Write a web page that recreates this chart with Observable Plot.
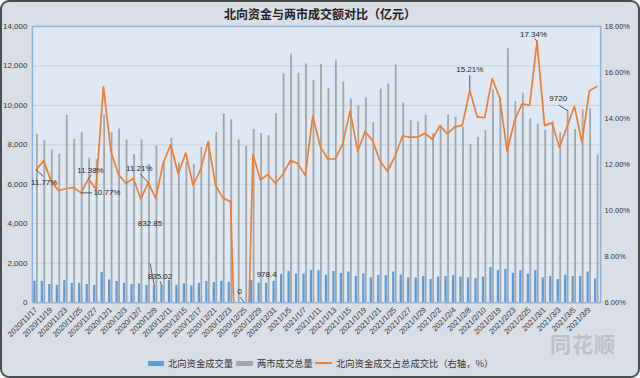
<!DOCTYPE html>
<html><head><meta charset="utf-8">
<script src="https://cdn.jsdelivr.net/npm/d3@7"></script>
<script src="https://cdn.jsdelivr.net/npm/@observablehq/plot@0.6"></script>
<style>
html,body{margin:0;padding:0;background:#fff;}
#wrap{position:relative;width:640px;height:378px;box-sizing:border-box;background:#d9dee7;border:2px solid #4d4d4d;border-radius:9px;overflow:hidden;font-family:"Noto Sans CJK SC","Noto Sans",sans-serif;}
#title{position:absolute;left:-2px;top:4px;width:640px;text-align:center;font-size:12px;font-weight:bold;color:#222;line-height:16px;}
#chart{position:absolute;left:-2px;top:18px;}
.lg{position:absolute;font-size:9.3px;line-height:12px;color:#333;white-space:nowrap;}
.sw{position:absolute;}
#wm{position:absolute;left:548px;top:326px;font-size:21px;font-weight:bold;color:rgba(160,166,178,0.55);letter-spacing:1px;}
</style></head>
<body>
<div id="wrap">
  <div id="title">北向资金与两市成交额对比（亿元）</div>
  <div id="chart"></div>
  <div id="wm">同花顺</div>
  <div class="sw" style="left:146px;top:359px;width:16px;height:5px;background:#5b9bd5"></div>
  <div class="lg" style="left:166px;top:355px;">北向资金成交量</div>
  <div class="sw" style="left:234px;top:359px;width:17px;height:5px;background:#a5a5a5"></div>
  <div class="lg" style="left:255px;top:355px;">两市成交总量</div>
  <div class="sw" style="left:313px;top:360px;width:17px;height:2px;background:#ed7d31"></div>
  <div class="lg" style="left:334px;top:355px;">北向资金成交占总成交比（右轴，%）</div>
</div>
<script>
const dates = [
"2020/11/17","2020/11/18","2020/11/19","2020/11/20","2020/11/23","2020/11/24","2020/11/25","2020/11/26","2020/11/27","2020/11/30",
"2020/12/1","2020/12/2","2020/12/3","2020/12/4","2020/12/7","2020/12/8","2020/12/9","2020/12/10","2020/12/11","2020/12/14",
"2020/12/15","2020/12/16","2020/12/17","2020/12/18","2020/12/21","2020/12/22","2020/12/23","2020/12/24","2020/12/25","2020/12/28",
"2020/12/29","2020/12/30","2020/12/31","2021/1/4","2021/1/5","2021/1/6","2021/1/7","2021/1/8","2021/1/11","2021/1/12",
"2021/1/13","2021/1/14","2021/1/15","2021/1/18","2021/1/19","2021/1/20","2021/1/21","2021/1/22","2021/1/25","2021/1/26",
"2021/1/27","2021/1/28","2021/1/29","2021/2/1","2021/2/2","2021/2/3","2021/2/4","2021/2/5","2021/2/8","2021/2/9",
"2021/2/10","2021/2/18","2021/2/19","2021/2/22","2021/2/23","2021/2/24","2021/2/25","2021/2/26","2021/3/1","2021/3/2",
"2021/3/3","2021/3/4","2021/3/5","2021/3/8","2021/3/9","2021/3/10"];
const northbound = [
1080,1080,920,880,1120,980,980,920,870,1520,
1150,1070,980,920,950,870,832.85,835.02,1130,880,
950,850,980,1070,1020,1080,1030,0,0,1130,
990,978.4,1080,1420,1580,1450,1450,1630,1620,1400,
1580,1480,1550,1330,1450,1250,1380,1370,1550,1400,
1250,1250,1330,1170,1300,1330,1370,1300,1250,1220,
1300,1780,1620,1680,1480,1620,1430,1620,1250,1330,
1170,1400,1330,1330,1550,1200];
const marketTotal = [
8530,8200,7750,7520,9500,8280,8630,7330,7250,9500,
8620,8800,8250,7500,8250,7000,7920,7080,8330,7080,
7120,7000,7880,8130,8620,9550,9270,8250,7920,8780,
8580,8470,9580,11600,12600,11630,12100,11270,12080,10850,
12300,11180,10320,9970,10380,9130,10830,11080,12050,10130,
9220,9150,9500,8550,8980,9520,9400,8880,8020,8380,
8730,10820,10380,12870,10200,10620,9330,9050,8720,9170,
8620,9720,8770,9780,9830,7480];
const ratioPct = [
11.77,12.16,11.29,10.86,10.96,11.0,10.77,11.38,10.93,15.39,
12.57,11.57,11.19,11.39,10.5,11.21,10.53,12.07,12.86,11.6,
12.5,11.1,11.79,13.0,11.1,10.53,10.4,0,0,12.43,
11.33,11.57,11.19,11.57,12.17,12.04,11.53,14.11,12.79,12.24,
12.24,12.9,14.33,12.57,13.43,13.04,12.14,11.71,12.36,13.24,
13.19,13.19,13.36,13.1,13.69,13.33,13.64,13.7,15.21,14.07,
14.04,15.74,14.9,12.57,13.93,14.64,14.57,17.34,13.69,13.81,
12.74,13.64,14.53,12.96,15.21,15.39];
const leftTicks = [0,2000,4000,6000,8000,10000,12000,14000];
const rightTicks = [6,8,10,12,14,16,18];
const annIdx =    [0, 6, 7, 15, 16, 17, 28, 31, 58, 67, 71];
const annSeries = ["pct","pct","pct","pct","blue","blue","blue","blue","pct","pct","gray"];
const annLabel =  ["11.77%","10.77%","11.38%","11.21%","832.85","835.02","0","978.4","15.21%","17.34%","9720"];

// layout (pixel offsets of label and leader end from the annotated point)
const annLayout = [
  {dx:8,dy:13,lx:7.3,ly:6.7},{dx:26,dy:0,lx:11,ly:0},{dx:2,dy:-8,lx:2.8,ly:-4},{dx:-9,dy:-14,lx:-8.3,ly:-9},
  {dx:-4.5,dy:-63,lx:-4.5,ly:-23},{dx:-2,dy:-10,lx:-2,ly:-5},{dx:-4.6,dy:-11,lx:-3.9,ly:-5.3},{dx:0,dy:-9,lx:null,ly:null},
  {dx:0,dy:-21,lx:0,ly:-15.5},{dx:-3.6,dy:-7.6,lx:-2.3,ly:-3.3},{dx:-10,dy:-12,lx:-9.5,ly:-5.8}];

const W=640,H=330,mL=32,mR=38,mT=6,mB=47,N=dates.length,YMAX=14000;
const pxCat=(W-mL-mR)/N, pxVal=(H-mT-mB)/YMAX;
const toY = p => (p-6)/12*YMAX;
const idx = d3.range(N);
const BLUE="#5b9bd5", GRAY="#a5a5a5", ORANGE="#ed7d31";

const annRows = annIdx.map((i,k)=>{
  const s=annSeries[k];
  const x = s==="pct"? i : s==="blue"? i-0.17 : i+0.16;
  const y = s==="pct"? toY(ratioPct[i]) : s==="blue"? northbound[i] : marketTotal[i];
  return {x,y,label:annLabel[k],...annLayout[k]};
});

const chart = Plot.plot({
  width: W, height: H, marginLeft: mL, marginRight: mR, marginTop: mT, marginBottom: mB,
  style: {background:"transparent", fontFamily:"'Liberation Sans',Arial,sans-serif", fontSize:"8px", color:"#333"},
  x: {type:"linear", domain:[-0.5, N-0.5]},
  y: {domain:[0, YMAX]},
  marks: [
    Plot.frame({fill:"#dfe9f5", stroke:"none"}),
    Plot.gridY(leftTicks, {stroke:"#c8d1dc", strokeOpacity:1}),
    Plot.rect(idx, {x1:i=>i-0.32, x2:i=>i-0.02, y1:()=>0, y2:i=>northbound[i], fill:BLUE}),
    Plot.rect(idx, {x1:i=>i+0.04, x2:i=>i+0.28, y1:()=>0, y2:i=>marketTotal[i], fill:GRAY}),
    Plot.line(idx, {x:i=>i, y:i=>toY(ratioPct[i]), stroke:ORANGE, strokeWidth:1.7, clip:true}),
    Plot.frame({stroke:"#8db4e2", strokeWidth:1.5}),
    Plot.link(annRows.filter(d=>d.lx!=null), {x1:d=>d.x, y1:d=>d.y, x2:d=>d.x+d.lx/pxCat, y2:d=>d.y-d.ly/pxVal, stroke:"#333", strokeWidth:0.8}),
    Plot.text(annRows, {x:d=>d.x+d.dx/pxCat, y:d=>d.y-d.dy/pxVal, text:"label", fontSize:8, fill:"#222"}),
    Plot.axisY(leftTicks, {anchor:"left", tickSize:0, tickPadding:5, tickFormat:d3.format(","), label:null, fontSize:8}),
    Plot.axisY(rightTicks.map(toY), {anchor:"right", tickSize:0, tickPadding:4, tickFormat:d=>((d/YMAX)*12+6).toFixed(2)+"%", label:null, fontSize:7.5}),
    Plot.axisX(idx.filter(i=>i%2===0), {tickSize:0, tickPadding:6, tickRotate:-45, tickFormat:i=>dates[i], label:null, fontSize:7.8})
  ]
});
document.getElementById("chart").appendChild(chart);
</script>
</body></html>
